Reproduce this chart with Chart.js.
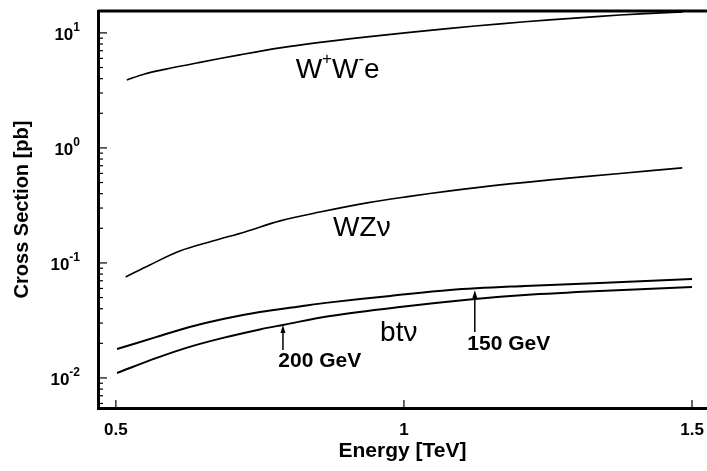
<!DOCTYPE html>
<html lang="en">
<head>
<meta charset="UTF-8">
<title>Cross Section vs Energy</title>
<script src="https://cdn.jsdelivr.net/npm/chart.js"></script>
<style>
  body { margin: 0; background: #fff; }
  #wrap { width: 707px; height: 471px; }
</style>
</head>
<body>
<div id="wrap"><canvas id="xsec" width="707" height="471"></canvas></div>
<script>
// values: energy in TeV, cross section in pb
var wweEnergy = [0.519, 0.55, 0.585, 0.646, 0.715, 0.785, 0.854, 0.936, 1.01, 1.08, 1.167, 1.253, 1.34, 1.41, 1.484];
var wweXsec   = [3.90, 4.40, 4.82, 5.54, 6.44, 7.41, 8.27, 9.23, 10.1, 10.94, 11.98, 12.97, 13.92, 14.63, 15.23];

var wzEnergy = [0.517, 0.559, 0.611, 0.668, 0.724, 0.785, 0.854, 0.936, 1.01, 1.08, 1.167, 1.253, 1.375, 1.483];
var wzXsec   = [0.0755, 0.0961, 0.127, 0.155, 0.186, 0.232, 0.277, 0.333, 0.379, 0.423, 0.477, 0.527, 0.600, 0.670];

// single top, m_t = 150 GeV (upper) and 200 GeV (lower)
var bt150Energy = [0.502, 0.571, 0.628, 0.686, 0.75, 0.819, 0.872, 0.976, 1.08, 1.21, 1.34, 1.5];
var bt150Xsec   = [0.01786, 0.02275, 0.02775, 0.03258, 0.0375, 0.0419, 0.0454, 0.0516, 0.0582, 0.0631, 0.0670, 0.0726];

var bt200Energy = [0.502, 0.571, 0.628, 0.686, 0.75, 0.79, 0.872, 0.993, 1.123, 1.21, 1.34, 1.5];
var bt200Xsec   = [0.01104, 0.01493, 0.01862, 0.0223, 0.02642, 0.02891, 0.03459, 0.0414, 0.0486, 0.0527, 0.0571, 0.0618];

var xTicks = [0.5, 1, 1.5];
var xTickLabels = ['0.5', '1', '1.5'];
var yDecades = [-3, -2, -1, 0, 1];
var yExponents = ['-2', '-1', '0', '1'];

// text placed on the plot, anchored in data coordinates
var curveNotes = [
  { parts: [['W'], ['+', 1], ['W'], ['-', 1], ['e']], x: 0.885, y: 4.77 },
  { parts: [['WZ\u03BD']], x: 0.927, y: 0.201 },
  { parts: [['bt\u03BD']], x: 0.991, y: 0.0246 }
];
var massNotes = [
  { text: '200 GeV', x: 0.854, y: 0.01406, arrowX: 0.790, from: 0.0175, to: 0.0289 },
  { text: '150 GeV', x: 1.182, y: 0.01977, arrowX: 1.123, from: 0.0251, to: 0.058 }
];

var FAMILY = '"Liberation Sans", Arial, Helvetica, sans-serif';

function points(xs, ys) {
  return xs.map(function (x, i) { return { x: x, y: ys[i] }; });
}

function curve(label, xs, ys, width) {
  return {
    label: label,
    data: points(xs, ys),
    borderColor: '#000',
    borderWidth: width,
    pointRadius: 0,
    fill: false,
    tension: 0.35
  };
}

function drawRich(ctx, parts, cx, cy, size) {
  var total = 0;
  var segs = parts.map(function (p) {
    var s = p[1] ? Math.round(size * 0.6) : size;
    ctx.font = 'normal ' + s + 'px ' + FAMILY;
    var w = ctx.measureText(p[0]).width;
    total += w;
    return { t: p[0], s: s, w: w, sup: !!p[1] };
  });
  var x = cx - total / 2;
  segs.forEach(function (g) {
    ctx.font = 'normal ' + g.s + 'px ' + FAMILY;
    ctx.fillText(g.t, x, g.sup ? cy - size * 0.36 : cy);
    x += g.w;
  });
}

var framePlugin = {
  id: 'frame',
  afterDraw: function (chart) {
    var ctx = chart.ctx, area = chart.chartArea;
    var xs = chart.scales.x, ys = chart.scales.y;
    ctx.save();
    ctx.strokeStyle = '#000';
    ctx.fillStyle = '#000';

    // top edge of the frame
    ctx.lineWidth = 3;
    ctx.beginPath();
    ctx.moveTo(area.left, area.top);
    ctx.lineTo(area.right, area.top);
    ctx.stroke();

    // tick marks pointing into the plot
    ctx.lineWidth = 1.2;
    ys.ticks.forEach(function (t) {
      var py = ys.getPixelForValue(t.value);
      var lg = Math.log10(t.value);
      var len = Math.abs(lg - Math.round(lg)) < 1e-6 ? 9 : 5;
      ctx.beginPath();
      ctx.moveTo(area.left, py);
      ctx.lineTo(area.left + len, py);
      ctx.stroke();
    });
    xs.ticks.forEach(function (t) {
      var px = xs.getPixelForValue(t.value);
      ctx.beginPath();
      ctx.moveTo(px, area.bottom);
      ctx.lineTo(px, area.bottom - 8);
      ctx.stroke();
    });

    // y labels as 10 with a raised exponent
    ctx.textBaseline = 'middle';
    ctx.textAlign = 'left';
    yExponents.forEach(function (e) {
      var py = ys.getPixelForValue(Math.pow(10, Number(e)));
      ctx.font = 'bold 12px ' + FAMILY;
      var ew = ctx.measureText(e).width;
      ctx.font = 'bold 17px ' + FAMILY;
      var bw = ctx.measureText('10').width;
      var right = area.left - 18;
      ctx.fillText('10', right - ew - bw, py + 2);
      ctx.font = 'bold 12px ' + FAMILY;
      ctx.fillText(e, right - ew, py - 5);
    });

    // curve names
    curveNotes.forEach(function (n) {
      drawRich(ctx, n.parts, xs.getPixelForValue(n.x), ys.getPixelForValue(n.y), 28);
    });

    // top mass labels with arrows
    ctx.textAlign = 'center';
    ctx.font = 'bold 21px ' + FAMILY;
    massNotes.forEach(function (n) {
      ctx.fillText(n.text, xs.getPixelForValue(n.x), ys.getPixelForValue(n.y));
      var ax = xs.getPixelForValue(n.arrowX);
      var y0 = ys.getPixelForValue(n.from);
      var y1 = ys.getPixelForValue(n.to);
      ctx.lineWidth = 1.5;
      ctx.beginPath();
      ctx.moveTo(ax, y0);
      ctx.lineTo(ax, y1 + 6);
      ctx.stroke();
      ctx.beginPath();
      ctx.moveTo(ax, y1);
      ctx.lineTo(ax - 2.5, y1 + 8);
      ctx.lineTo(ax + 2.5, y1 + 8);
      ctx.closePath();
      ctx.fill();
    });
    ctx.restore();
  }
};

new Chart(document.getElementById('xsec'), {
  type: 'line',
  data: {
    datasets: [
      curve('W+W-e', wweEnergy, wweXsec, 1.6),
      curve('WZnu', wzEnergy, wzXsec, 1.6),
      curve('btnu 150 GeV', bt150Energy, bt150Xsec, 2),
      curve('btnu 200 GeV', bt200Energy, bt200Xsec, 2)
    ]
  },
  options: {
    responsive: false,
    animation: false,
    layout: { padding: { top: 11, right: 0, bottom: 0, left: 0 } },
    plugins: { legend: { display: false }, tooltip: { enabled: false } },
    scales: {
      x: {
        type: 'linear',
        position: 'bottom',
        min: 0.469,
        max: 1.526,
        afterBuildTicks: function (s) {
          s.ticks = xTicks.map(function (v) { return { value: v }; });
        },
        afterFit: function (s) {
          s.height = 63;
          s.paddingLeft = 0;
          s.paddingRight = 0;
        },
        grid: { display: false, drawTicks: false },
        border: { display: true, color: '#000', width: 3 },
        ticks: {
          padding: 12,
          color: '#000',
          autoSkip: false,
          maxRotation: 0,
          font: { family: FAMILY, size: 17, weight: 'bold' },
          callback: function (v, i) { return xTickLabels[i]; }
        },
        title: {
          display: true,
          text: 'Energy [TeV]',
          color: '#000',
          font: { family: FAMILY, size: 21, weight: 'bold' },
          padding: { top: 0, bottom: 7 }
        }
      },
      y: {
        type: 'logarithmic',
        min: 0.00548,
        max: 15.5,
        afterBuildTicks: function (s) {
          var list = [];
          yDecades.forEach(function (d) {
            for (var k = 1; k <= 9; k++) {
              var v = k * Math.pow(10, d);
              if (v >= s.min && v <= s.max) list.push({ value: v });
            }
          });
          s.ticks = list;
        },
        afterFit: function (s) {
          s.width = 98;
          s.paddingTop = 0;
          s.paddingBottom = 0;
        },
        grid: { display: false, drawTicks: false },
        border: { display: true, color: '#000', width: 3 },
        ticks: { display: false },
        title: {
          display: true,
          text: 'Cross Section [pb]',
          color: '#000',
          font: { family: FAMILY, size: 20, weight: 'bold' },
          padding: { top: 10, bottom: 0 }
        }
      }
    }
  },
  plugins: [framePlugin]
});
</script>
</body>
</html>
